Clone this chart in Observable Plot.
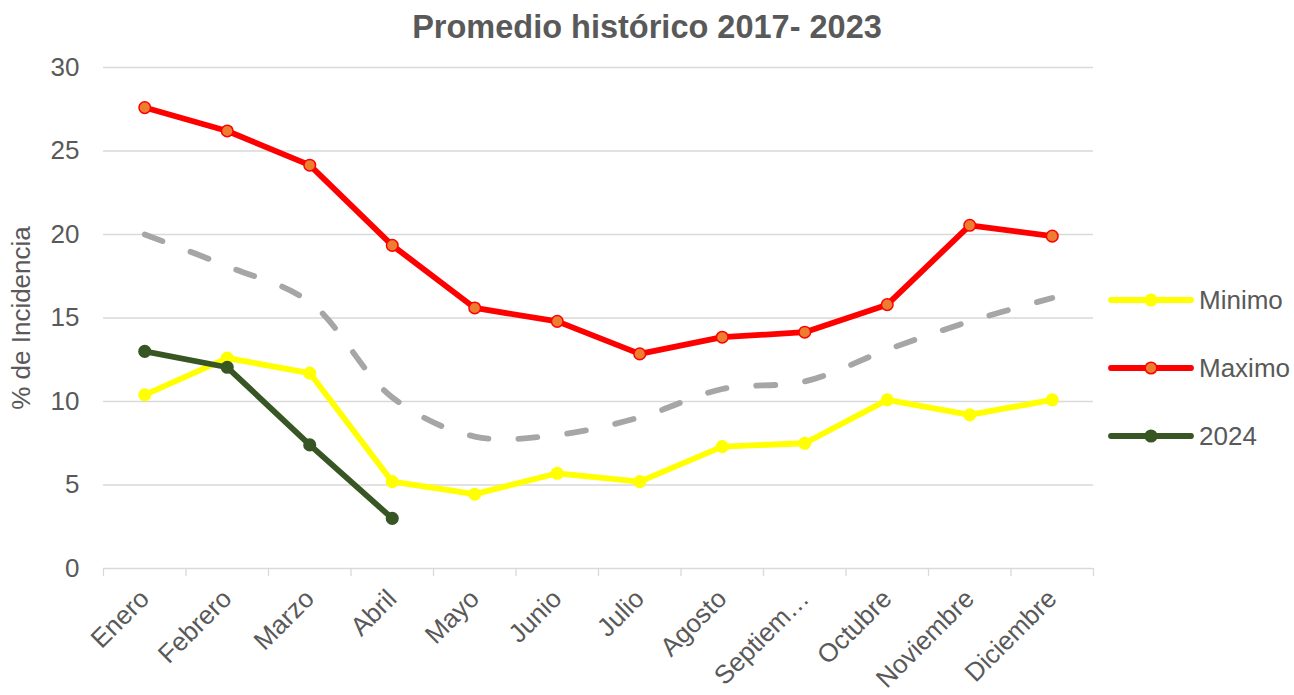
<!DOCTYPE html>
<html>
<head>
<meta charset="utf-8">
<script src="https://cdn.jsdelivr.net/npm/d3@7"></script>
<script src="https://cdn.jsdelivr.net/npm/@observablehq/plot@0.6"></script>
<style>
  body { margin: 0; background: #fff; font-family: "Liberation Sans", Arial, sans-serif; }
  #wrap { position: relative; width: 1294px; height: 695px; overflow: hidden; }
  #title { height: 50px; line-height: 50px; padding-top: 0; text-align: center; font-weight: bold; font-size: 32.5px; color: #595959; }
  #title span { position: relative; top: 2px; }
  #legend { position: absolute; left: 1108px; top: 0; }
  .item { position: absolute; left: 0; height: 30px; display: flex; align-items: center; white-space: nowrap; font-size: 26px; color: #595959; }
  .item svg { margin-right: 5px; }
</style>
</head>
<body>
<div id="wrap">
  <div id="title"><span>Promedio histórico 2017- 2023</span></div>
  <div id="chart"></div>
  <div id="legend"></div>
</div>
<script>
const months = ["Enero","Febrero","Marzo","Abril","Mayo","Junio","Julio","Agosto","Septiembre","Octubre","Noviembre","Diciembre"];
const tickLabels = ["Enero","Febrero","Marzo","Abril","Mayo","Junio","Julio","Agosto","Septiem…","Octubre","Noviembre","Diciembre"];
const minimo = [10.4, 12.6, 11.7, 5.2, 4.45, 5.7, 5.2, 7.3, 7.5, 10.1, 9.2, 10.1];
const maximo = [27.6, 26.2, 24.15, 19.35, 15.6, 14.8, 12.85, 13.85, 14.15, 15.8, 20.55, 19.9];
const serie2024 = [13.0, 12.05, 7.4, 3.0];
const promedio = [20.0, 18.1, 15.95, 10.25, 7.9, 8.0, 9.05, 10.75, 11.2, 13.1, 14.8, 16.2];
const yTicks = [0, 5, 10, 15, 20, 25, 30];
const seriesNames = ["Minimo", "Maximo", "2024"];

const rows = (arr, s) => arr.map((v, i) => ({i, month: months[i], v, s}));
const idx = d3.range(months.length);
const bounds = d3.range(months.length + 1).map(i => i - 0.5);

const styles = {
  "Minimo": {stroke: "#ffff00", fill: "#ffff00", dotStroke: "#ffff00"},
  "Maximo": {stroke: "#ff0000", fill: "#ed7d31", dotStroke: "#ff0000"},
  "2024":   {stroke: "#375623", fill: "#375623", dotStroke: "#375623"}
};
const data = {"Minimo": rows(minimo, "Minimo"), "Maximo": rows(maximo, "Maximo"), "2024": rows(serie2024, "2024")};

const lineMarks = [];
for (const s of seriesNames) {
  lineMarks.push(Plot.line(data[s], {x: "i", y: "v", stroke: styles[s].stroke, strokeWidth: 5.8, strokeLinejoin: "round", strokeLinecap: "round"}));
  lineMarks.push(Plot.dot(data[s], {x: "i", y: "v", r: 5.8, fill: styles[s].fill, stroke: styles[s].dotStroke, strokeWidth: 1.5}));
}

const chart = Plot.plot({
  width: 1294,
  height: 645,
  marginLeft: 103,
  marginRight: 201,
  marginTop: 17,
  marginBottom: 127,
  style: {fontFamily: "'Liberation Sans', Arial, sans-serif", color: "#595959", background: "#fff"},
  x: {type: "linear", domain: [-0.5, months.length - 0.5]},
  y: {domain: [0, 30]},
  marks: [
    Plot.gridY(yTicks, {stroke: "#d9d9d9", strokeOpacity: 1, strokeWidth: 1.3}),
    Plot.axisX(bounds, {tickSize: 8, tickFormat: () => "", stroke: "#d9d9d9", strokeWidth: 1.3, label: null}),
    Plot.axisX(idx, {tickSize: 0, tickFormat: i => tickLabels[i], tickRotate: -45, tickPadding: 26, fontSize: 26, label: null}),
    Plot.axisY(yTicks, {tickSize: 0, tickPadding: 24, fontSize: 26, label: "% de Incidencia", labelAnchor: "center", labelArrow: "none", labelOffset: 92}),
    Plot.line(rows(promedio, "Promedio"), {x: "i", y: "v", stroke: "#a6a6a6", strokeWidth: 5.8, strokeDasharray: "19 30", strokeLinecap: "round", curve: "catmull-rom"}),
    ...lineMarks
  ]
});
document.getElementById("chart").appendChild(chart);

// Legend
const legend = document.getElementById("legend");
const legendY = {"Minimo": 300, "Maximo": 368, "2024": 436};
for (const s of seriesNames) {
  const item = document.createElement("div");
  item.className = "item";
  item.style.top = (legendY[s] - 15) + "px";
  const st = styles[s];
  item.innerHTML = `<svg width="86" height="20"><line x1="3" y1="10" x2="83" y2="10" stroke="${st.stroke}" stroke-width="5.8" stroke-linecap="round"/><circle cx="43" cy="10" r="5.8" fill="${st.fill}" stroke="${st.dotStroke}" stroke-width="1.5"/></svg><span>${s}</span>`;
  legend.appendChild(item);
}
</script>
</body>
</html>
